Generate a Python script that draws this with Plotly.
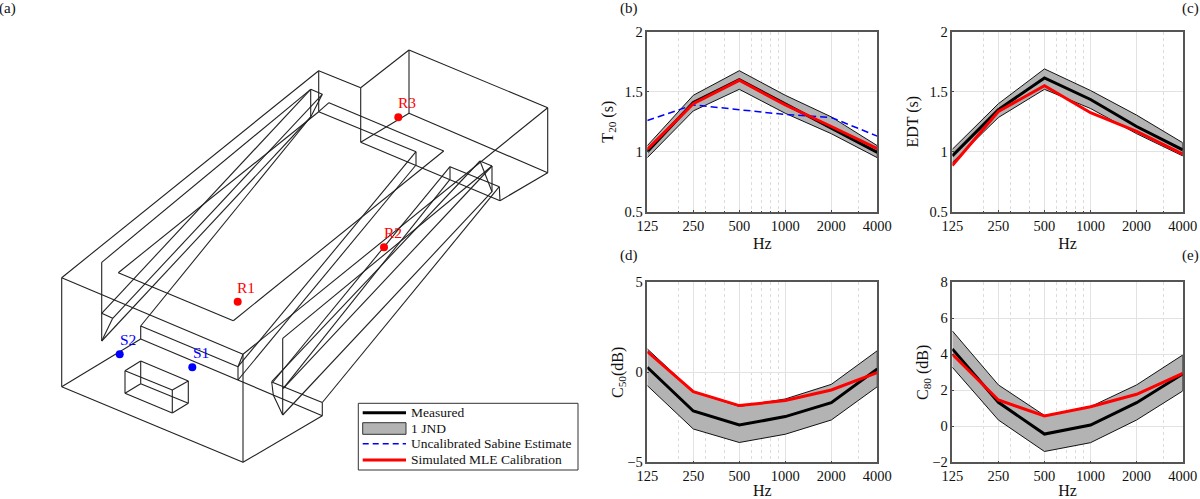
import plotly.graph_objects as go

FONT = "Liberation Serif"

freqs = [125, 250, 500, 1000, 2000, 4000]
freq_labels = ["125", "250", "500", "1000", "2000", "4000"]
minor_freqs = [200, 300, 400, 600, 700, 800, 900, 3000]

t20_measured = [1.0, 1.41, 1.60, 1.40, 1.20, 0.995]
t20_upper = [1.05, 1.47, 1.675, 1.47, 1.29, 1.05]
t20_lower = [0.95, 1.34, 1.52, 1.32, 1.15, 0.95]
t20_sim = [1.02, 1.40, 1.595, 1.39, 1.21, 1.025]
t20_sabine = [1.26, 1.39, 1.35, 1.31, 1.285, 1.13]

edt_measured = [0.965, 1.35, 1.615, 1.435, 1.21, 1.015]
edt_upper = [1.02, 1.40, 1.69, 1.51, 1.305, 1.075]
edt_lower = [0.91, 1.285, 1.52, 1.36, 1.15, 0.965]
edt_sim = [0.885, 1.335, 1.55, 1.325, 1.17, 0.98]

c50_measured = [0.28, -2.15, -2.93, -2.46, -1.69, 0.19]
c50_upper = [1.3, -1.07, -1.9, -1.48, -0.67, 1.2]
c50_lower = [-0.74, -3.15, -3.9, -3.44, -2.65, -0.8]
c50_sim = [1.15, -1.07, -1.85, -1.57, -0.98, -0.02]

c80_measured = [4.3, 1.33, -0.43, 0.07, 1.31, 2.91]
c80_upper = [5.3, 2.3, 0.6, 1.09, 2.3, 3.96]
c80_lower = [3.28, 0.35, -1.4, -0.91, 0.35, 1.96]
c80_sim = [4.0, 1.46, 0.57, 1.09, 1.78, 2.94]

# room wireframe in pixels
room_edges = [
    # front block
    ((61.7, 277.7), (61.7, 386.7)), ((61.7, 386.7), (243, 462.3)), ((243, 462.3), (243, 354.3)),
    ((61.7, 277.7), (243, 354.3)), ((243, 462.3), (322.3, 415.7)), ((322.3, 415.7), (322.3, 402.5)),
    ((140.7, 339), (322.3, 415.7)), ((140.7, 339), (140.7, 326)), ((140.7, 326), (238, 366.7)),
    ((238, 366.7), (238, 380)), ((238, 366.7), (243, 354.3)), ((61.7, 386.7), (140.7, 339)),
    ((61.7, 277.7), (318.7, 70.7)), ((271.7, 382), (322.3, 402.5)),
    # left window
    ((101.7, 262.3), (310.7, 89.3)), ((101.7, 262.3), (101.7, 341)), ((310.7, 89.3), (322.3, 94.3)),
    ((310.7, 89.3), (310.7, 117)), ((322.3, 94.3), (310.7, 117)), ((101.7, 313.3), (310.7, 89.3)),
    ((112.7, 318.3), (322.3, 94.3)), ((101.7, 341), (310.7, 117)), ((101.7, 341), (112.7, 318.3)),
    ((101.7, 313.3), (112.7, 318.3)), ((140.7, 326), (310.7, 117)),
    # inner floor outline
    ((118.3, 272.7), (318.7, 111.7)), ((118.3, 272.7), (233.3, 320.7)), ((233.3, 320.7), (443.7, 151)),
    ((443.7, 151), (329, 102.7)), ((329, 102.7), (318.7, 111.7)), ((318.7, 111.7), (416, 151.7)),
    ((416, 151.7), (416, 165)), ((238, 366.7), (416, 151.7)), ((238, 380), (416, 165)),
    ((318.7, 70.7), (318.7, 111.7)), ((318.7, 70.7), (360.7, 87.7)),
    # back box
    ((360.7, 87.7), (409, 50)), ((409, 50), (547.7, 107.7)), ((409, 50), (409, 113.3)),
    ((360.7, 87.7), (360.7, 142.3)), ((360.7, 142.3), (409, 113.3)), ((409, 113.3), (547.7, 172.7)),
    ((547.7, 107.7), (547.7, 172.7)), ((547.7, 172.7), (500, 200.7)), ((360.7, 142.3), (500, 200.7)),
    ((243, 354.3), (547.7, 107.7)),
    # right window
    ((282.7, 338.3), (282.7, 415)), ((282.7, 338.3), (492, 166)), ((271.7, 381.7), (480, 161)),
    ((273, 382), (450, 166.7)), ((283.3, 388.3), (450, 179.3)), ((283.3, 388.3), (492, 166)),
    ((282.7, 415), (492, 191.7)), ((322.3, 402.5), (499.3, 186.7)), ((271.7, 381.7), (273.3, 395)),
    ((273.3, 395), (282.7, 415)), ((450, 166.7), (450, 179.3)), ((450, 166.7), (499.3, 186.7)),
    ((499.3, 186.7), (500, 200.7)), ((480, 161), (492, 166)), ((492, 166), (492, 191.7)),
    ((480, 161), (492, 191.7)),
    # box on the floor
    ((125, 370.7), (172.3, 390)), ((125, 370.7), (140.7, 361)), ((140.7, 361), (188.3, 381)),
    ((188.3, 381), (172.3, 390)), ((125, 370.7), (125, 393.3)), ((172.3, 390), (172.3, 413)),
    ((188.3, 381), (188.3, 403.3)), ((140.7, 361), (140.7, 383.7)), ((125, 393.3), (172.3, 413)),
    ((172.3, 413), (188.3, 403.3)), ((188.3, 403.3), (140.7, 383.7)), ((140.7, 383.7), (125, 393.3)),
]

receiver_names = ["R1", "R2", "R3"]
receiver_x = [237.7, 384, 398.3]
receiver_y = [301.7, 247.3, 117.3]
source_names = ["S1", "S2"]
source_x = [192.3, 119.7]
source_y = [367.3, 354.3]

W, H = 1200, 499

fig = go.Figure()

edge_x, edge_y = [], []
for a, b in room_edges:
    edge_x += [a[0], b[0], None]
    edge_y += [a[1], b[1], None]
fig.add_trace(go.Scatter(x=edge_x, y=edge_y, mode="lines", line=dict(color="#222", width=1.1),
                         showlegend=False, hoverinfo="skip"))
fig.add_trace(go.Scatter(x=receiver_x, y=receiver_y, mode="markers",
                         marker=dict(size=8, color="red"), showlegend=False))
fig.add_trace(go.Scatter(x=source_x, y=source_y, mode="markers",
                         marker=dict(size=8, color="blue"), showlegend=False))

fig.update_layout(
    xaxis=dict(range=[0, W], domain=[0, 1], visible=False, fixedrange=True, automargin=False),
    yaxis=dict(range=[H, 0], domain=[0, 1], visible=False, fixedrange=True, automargin=False),
)


def add_panel(n, box, measured, upper, lower, sim, yrange, yticks, ytitle, standoff, sabine=None):
    left, top, right, bottom = box
    xname, yname = f"x{n}", f"y{n}"
    band_x = freqs + freqs[::-1]
    band_y = upper + lower[::-1]
    fig.add_trace(go.Scatter(x=band_x, y=band_y, xaxis=xname, yaxis=yname, mode="lines", fill="toself",
                             fillcolor="#b3b3b3", line=dict(color="#111", width=1), showlegend=False))
    fig.add_trace(go.Scatter(x=freqs, y=measured, xaxis=xname, yaxis=yname, mode="lines",
                             line=dict(color="black", width=3), showlegend=False))
    if sabine:
        fig.add_trace(go.Scatter(x=freqs, y=sabine, xaxis=xname, yaxis=yname, mode="lines",
                                 line=dict(color="#0000ff", width=1.5, dash="7px,4px"), showlegend=False))
    fig.add_trace(go.Scatter(x=freqs, y=sim, xaxis=xname, yaxis=yname, mode="lines",
                             line=dict(color="red", width=3), showlegend=False))
    fig.update_layout({
        f"xaxis{n}": dict(
            type="log", range=[2.09691, 3.60206], domain=[left / W, right / W], anchor=yname,
            automargin=False,
            tickvals=freqs, ticktext=freq_labels, ticks="inside", ticklen=2, tickcolor="#444",
            showgrid=True, gridcolor="#e2e2e2", gridwidth=1, zeroline=False,
            minor=dict(tickvals=minor_freqs, showgrid=True, gridcolor="#dcdcdc", griddash="dot",
                       ticks="inside", ticklen=1, tickcolor="#444"),
            showline=True, linecolor="#555", linewidth=1.5, mirror=True,
            title=dict(text="Hz", standoff=5, font=dict(family=FONT, size=16, color="#111")),
            tickfont=dict(family=FONT, size=14.5, color="#111"),
        ),
        f"yaxis{n}": dict(
            range=yrange, domain=[1 - bottom / H, 1 - top / H], anchor=xname,
            automargin=False,
            tickvals=yticks, tickmode="array", ticks="inside", ticklen=2, tickcolor="#444",
            showgrid=True, gridcolor="#e2e2e2", gridwidth=1, zeroline=False,
            showline=True, linecolor="#555", linewidth=1.5, mirror=True,
            title=dict(text=ytitle, standoff=standoff, font=dict(family=FONT, size=16, color="#111")),
            tickfont=dict(family=FONT, size=14.5, color="#111"), tickformat="~g",
        ),
    })


add_panel(2, (647.3, 31.7, 877.3, 211.7), t20_measured, t20_upper, t20_lower, t20_sim,
          [0.5, 2], [0.5, 1, 1.5, 2], "T<sub>20</sub> (s)", 7, sabine=t20_sabine)
add_panel(3, (952.3, 31.7, 1182.7, 211.7), edt_measured, edt_upper, edt_lower, edt_sim,
          [0.5, 2], [0.5, 1, 1.5, 2], "EDT (s)", 7)
add_panel(4, (647.3, 282.3, 877.3, 462.3), c50_measured, c50_upper, c50_lower, c50_sim,
          [-5, 5], [-5, 0, 5], "C<sub>50</sub>(dB)", 0)
add_panel(5, (952.3, 282.3, 1182.7, 462.3), c80_measured, c80_upper, c80_lower, c80_sim,
          [-2, 8], [-2, 0, 2, 4, 6, 8], "C<sub>80</sub> (dB)", 0)

# legend is drawn by hand because the rows sit closer than plotly's own legend allows
shapes = [
    dict(type="rect", x0=358.3, x1=578, y0=403.3, y1=470, line=dict(color="#333", width=1), fillcolor="white"),
    dict(type="line", x0=362.7, x1=406, y0=412.7, y1=412.7, line=dict(color="black", width=3)),
    dict(type="rect", x0=362.7, x1=406, y0=422.7, y1=434.3, line=dict(color="#333", width=1), fillcolor="#b3b3b3"),
    dict(type="line", x0=362.7, x1=406, y0=443.7, y1=443.7, line=dict(color="#0000ff", width=1.5, dash="6px,4px")),
    dict(type="line", x0=362.7, x1=406, y0=460, y1=460, line=dict(color="red", width=3)),
]
fig.update_layout(shapes=[dict(s, xref="x", yref="y", layer="above") for s in shapes])

legend_text = ["Measured", "1 JND", "Uncalibrated Sabine Estimate", "Simulated MLE Calibration"]
legend_y = [412.7, 428, 443.7, 459.3]
notes = [dict(x=408.5, y=yy, text=t, xanchor="left", font=dict(family=FONT, size=13.5, color="#111"))
         for t, yy in zip(legend_text, legend_y)]
panel_tags = [("(a)", 7.5, 8.5), ("(b)", 629.3, 8.5), ("(c)", 1190.5, 8.5), ("(d)", 629.3, 255), ("(e)", 1190.5, 255)]
notes += [dict(x=px, y=py, text=t, xanchor="center", font=dict(family=FONT, size=15, color="#111"))
          for t, px, py in panel_tags]
# point labels sit up and to the right of their dots
for names, xs, ys, colour in [(receiver_names, receiver_x, receiver_y, "red"),
                              (source_names, source_x, source_y, "blue")]:
    notes += [dict(x=px, y=py, text=t, xshift=8.5, yshift=14.5, xanchor="center",
                   font=dict(family=FONT, size=15.5, color=colour))
              for t, px, py in zip(names, xs, ys)]
fig.update_layout(annotations=[dict(n, xref="x", yref="y", yanchor="middle", showarrow=False) for n in notes])

fig.update_layout(
    width=W, height=H, margin=dict(l=0, r=0, t=0, b=0),
    paper_bgcolor="white", plot_bgcolor="rgba(0,0,0,0)", showlegend=False,
)
fig.write_html("out.html", config=dict(displayModeBar=False),
               post_script="document.body.style.margin='0';document.body.style.overflow='hidden';")
